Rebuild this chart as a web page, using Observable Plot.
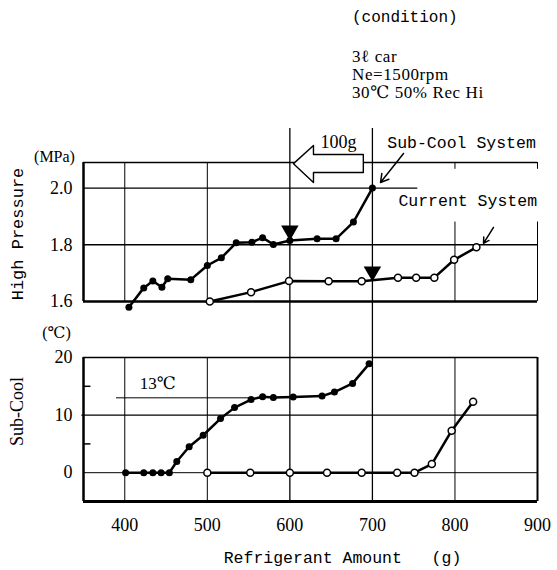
<!DOCTYPE html>
<html>
<head>
<meta charset="utf-8">
<script src="https://cdn.jsdelivr.net/npm/d3@7"></script>
<script src="https://cdn.jsdelivr.net/npm/@observablehq/plot@0.6"></script>
<style>
  body { margin: 0; background: white; }
  #chart { position: relative; width: 557px; height: 570px; background: white; overflow: hidden; }
  #chart svg { position: absolute; left: 0; top: 0; }
  #cond { position: absolute; left: 352px; top: 8px; color: black; }
  #cond .mono { font: 16px "Liberation Mono", "DejaVu Sans Mono", monospace; height: 20px; line-height: 20px; }
  #cond .ser { font: 17px "Liberation Serif", "DejaVu Serif", serif; letter-spacing: 0.6px; line-height: 18px; height: 18px; }
</style>
</head>
<body>
<div id="chart">
  <div id="cond">
    <div class="mono">(condition)</div>
    <div style="height:20px"></div>
    <div class="ser">3ℓ car</div>
    <div class="ser">Ne=1500rpm</div>
    <div class="ser">30℃ 50% Rec Hi</div>
  </div>
</div>
<script>
// ---------- data ----------
const xTicks = [400, 500, 600, 700, 800, 900];
const pTicks = [1.6, 1.8, 2.0];
const sTicks = [0, 10, 20];

// High pressure (MPa) vs refrigerant amount (g)
const scAmountP = [405, 423, 434, 445, 452, 480, 500, 517, 535, 554, 567, 580, 600, 633, 656, 677, 700];
const scPressure = [1.58, 1.648, 1.672, 1.65, 1.68, 1.677, 1.727, 1.754, 1.807, 1.809, 1.825, 1.801, 1.815, 1.821, 1.821, 1.88, 2.0];
const curAmountP = [503, 553, 599, 647, 687, 731, 753, 775, 799, 826];
const curPressure = [1.6, 1.633, 1.672, 1.671, 1.671, 1.684, 1.684, 1.684, 1.747, 1.791];

// Sub-cool (°C) vs refrigerant amount (g)
const scAmountS = [401, 423, 434, 444, 454, 463, 478, 495, 516, 533, 553, 567, 580, 604, 639, 654, 676, 696];
const scSubcool = [0, 0, 0, 0, 0, 1.95, 4.5, 6.5, 9.4, 11.3, 12.7, 13.2, 13.05, 13.15, 13.3, 14.0, 15.5, 18.9];
const curAmountS = [500, 552, 600, 645, 687, 730, 751, 772, 796, 822];
const curSubcool = [0, 0, 0, 0, 0, 0, 0, 1.5, 7.3, 12.3];

// markers (▼) on the pressure curves
const markAmount = [600, 700];
const markPressure = [1.85, 1.706];

// annotation anchors (in data units)
const labelText = ["100g", "Sub-Cool System", "Current System"];
const labelAmount = [659, 718, 731.5];
const labelPressure = [2.16, 2.16, 1.956];
const arrowFrom = [[737.7, 2.122], [846.7, 1.861]];
const arrowTo = [[709.8, 2.0195], [834.6, 1.805]];
// hollow "100 g shift" block arrow outline
const shiftArrowAmount = [604.4, 628.6, 628.6, 689, 689, 628.6, 628.6, 604.4];
const shiftArrowPressure = [2.086, 2.15, 2.118, 2.118, 2.055, 2.055, 2.0195, 2.086];
const subcoolRef = 13;
const subcoolRefRange = [390, 552];

// ---------- build rows ----------
const zipRows = (xs, ys) => xs.map((x, i) => ({x, y: ys[i]}));
const scP = zipRows(scAmountP, scPressure);
const curP = zipRows(curAmountP, curPressure);
const scS = zipRows(scAmountS, scSubcool);
const curS = zipRows(curAmountS, curSubcool);
const markRows = zipRows(markAmount, markPressure);
const labels = labelText.map((t, i) => ({t, x: labelAmount[i], y: labelPressure[i]}));
const arrows = arrowFrom.map((f, i) => ({x1: f[0], y1: f[1], x2: arrowTo[i][0], y2: arrowTo[i][1]}));
const shiftArrow = zipRows(shiftArrowAmount, shiftArrowPressure);

const MONO = "Liberation Mono, DejaVu Sans Mono, monospace";
const SERIF = "Liberation Serif, DejaVu Serif, serif";
const xDomain = [350, 900];
const W = 557, H = 570;
const common = {
  width: W, height: H, marginLeft: 83, marginRight: 20,
  style: {background: "transparent", overflow: "visible", fontFamily: SERIF, fontSize: "18px", color: "black"}
};

// ---------- top panel: High Pressure ----------
const topPlot = Plot.plot({
  ...common,
  marginTop: 162, marginBottom: H - 301,
  x: {domain: xDomain, axis: null},
  y: {domain: [1.6, 2.09]},
  marks: [
    Plot.ruleX([400, 500], {stroke: "black", strokeWidth: 1}),
    Plot.ruleX([800, 900], {y1: 2.09, y2: 2.066, stroke: "black", strokeWidth: 1}),
    Plot.ruleX([800, 900], {y1: 1.88, y2: 1.6, stroke: "black", strokeWidth: 1}),
    Plot.ruleX([600, 700], {y1: 2.21, y2: 1.6, stroke: "black", strokeWidth: 1.3}),
    Plot.ruleY([1.8], {stroke: "black", strokeWidth: 1.3}),
    Plot.ruleY([2.0], {x1: 350, x2: 755, stroke: "black", strokeWidth: 1.3}),
    Plot.ruleY([2.09], {stroke: "black", strokeWidth: 1.5}),
    Plot.ruleY([1.6], {stroke: "black", strokeWidth: 2.5}),
    Plot.ruleX([350], {stroke: "black", strokeWidth: 2.5}),
    Plot.line(shiftArrow, {x: "x", y: "y", fill: "white", stroke: "black", strokeWidth: 1.4}),
    Plot.axisY({ticks: pTicks, tickSize: 0, tickPadding: 11, tickFormat: d3.format(".1f"), label: null}),
    Plot.text(["(MPa)"], {frameAnchor: "top-left", dx: -29, dy: -6, textAnchor: "middle", lineAnchor: "middle", fontSize: 16, fontFamily: SERIF}),
    Plot.text(["High Pressure"], {frameAnchor: "left", rotate: -90, dx: -66, dy: 2, textAnchor: "middle", lineAnchor: "middle", fontSize: 17, fontFamily: MONO}),
    Plot.line(curP, {x: "x", y: "y", stroke: "black", strokeWidth: 2.5}),
    Plot.line(scP, {x: "x", y: "y", stroke: "black", strokeWidth: 2.5}),
    Plot.dot(scP, {x: "x", y: "y", r: 3.5, fill: "black"}),
    Plot.dot(curP, {x: "x", y: "y", r: 3.5, fill: "white", stroke: "black", strokeWidth: 1.5}),
    Plot.dot(markRows, {x: "x", y: "y", symbol: "triangle", rotate: 180, r: 6.5, fill: "black"}),
    Plot.arrow(arrows, {x1: "x1", y1: "y1", x2: "x2", y2: "y2", stroke: "black", strokeWidth: 1.5, headLength: 9, bend: false}),
    Plot.text(labels.slice(0, 1), {x: "x", y: "y", text: "t", fontFamily: SERIF, fontSize: 18}),
    Plot.text(labels.slice(1), {x: "x", y: "y", text: "t", textAnchor: "start", fontFamily: MONO, fontSize: 16.5})
  ]
});

// ---------- bottom panel: Sub-Cool ----------
const bottomPlot = Plot.plot({
  ...common,
  marginTop: 357, marginBottom: H - 501,
  x: {domain: xDomain},
  y: {domain: [-5, 20]},
  marks: [
    Plot.ruleX([400, 500, 800], {stroke: "black", strokeWidth: 1}),
    Plot.ruleX([600, 700], {y1: 29.7, y2: -5, stroke: "black", strokeWidth: 1.3}),
    Plot.ruleY([10], {x1: 348, x2: 900, stroke: "black", strokeWidth: 1.3}),
    Plot.ruleY([0], {stroke: "black", strokeWidth: 1}),
    Plot.ruleY([5, 15], {x1: 350, x2: 359, stroke: "black", strokeWidth: 1.5}),
    Plot.ruleY([20], {stroke: "black", strokeWidth: 1.5}),
    Plot.ruleY([-5], {stroke: "black", strokeWidth: 3}),
    Plot.ruleX([350], {stroke: "black", strokeWidth: 2.5}),
    Plot.ruleX([900], {stroke: "black", strokeWidth: 2}),
    Plot.ruleY([subcoolRef], {x1: subcoolRefRange[0], x2: subcoolRefRange[1], stroke: "black", strokeWidth: 1}),
    Plot.text(["13℃"], {x: 440, y: 15.4, fontSize: 17, fontFamily: SERIF}),
    Plot.axisY({ticks: sTicks, tickSize: 0, tickPadding: 11, label: null}),
    Plot.axisX({ticks: xTicks, tickSize: 0, tickPadding: 17, label: null}),
    Plot.text(["(℃)"], {frameAnchor: "top-left", dx: -27, dy: -25, textAnchor: "middle", lineAnchor: "middle", fontSize: 16, fontFamily: SERIF}),
    Plot.text(["Sub-Cool"], {frameAnchor: "left", rotate: -90, dx: -66, dy: -18, textAnchor: "middle", lineAnchor: "middle", fontSize: 18, fontFamily: SERIF}),
    Plot.text(["Refrigerant Amount\u00a0\u00a0\u00a0(g)"], {frameAnchor: "bottom", dx: 32, dy: 56, lineAnchor: "middle", fontSize: 16.5, fontFamily: MONO}),
    Plot.line(curS, {x: "x", y: "y", stroke: "black", strokeWidth: 2.5}),
    Plot.line(scS, {x: "x", y: "y", stroke: "black", strokeWidth: 2.5}),
    Plot.dot(scS, {x: "x", y: "y", r: 3.5, fill: "black"}),
    Plot.dot(curS, {x: "x", y: "y", r: 3.5, fill: "white", stroke: "black", strokeWidth: 1.5})
  ]
});

const chart = document.getElementById("chart");
chart.appendChild(bottomPlot);
chart.appendChild(topPlot);
</script>
</body>
</html>
